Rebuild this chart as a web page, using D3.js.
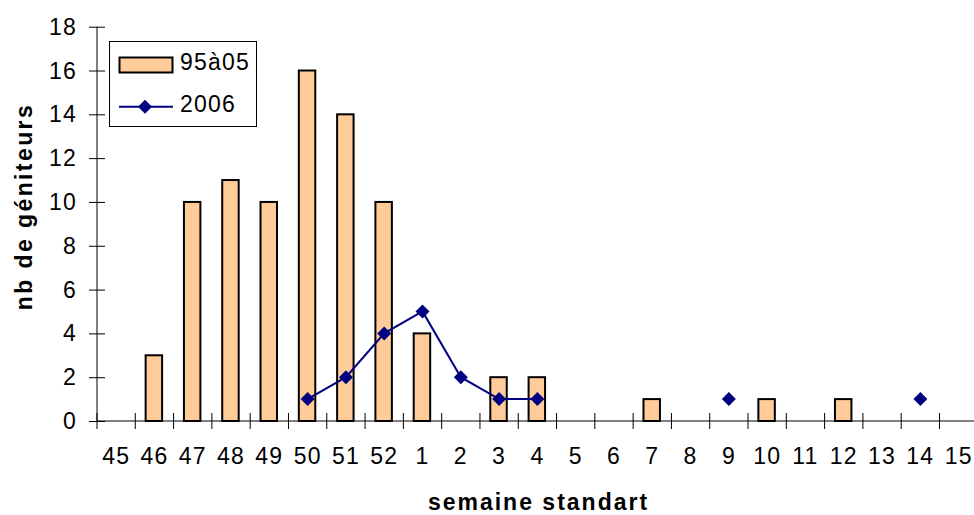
<!DOCTYPE html>
<html>
<head>
<meta charset="utf-8">
<script src="https://cdn.jsdelivr.net/npm/d3@7"></script>
<style>
  html, body { margin: 0; padding: 0; background: #fff; }
  svg { display: block; }
  text { font-family: "Liberation Sans", Arial, sans-serif; fill: #000; }
</style>
</head>
<body>
<svg id="chart" width="974" height="515"></svg>
<script>
// ---- data ----
const categories = ["45","46","47","48","49","50","51","52","1","2","3","4","5","6","7","8","9","10","11","12","13","14","15"];
const series9505 = [0,3,10,11,10,16,14,10,4,0,2,2,0,0,1,0,0,1,0,1,0,0,0];
const series2006 = [null,null,null,null,null,1,2,4,5,2,1,1,null,null,null,null,1,null,null,null,null,1,null];
const yTicks = [0,2,4,6,8,10,12,14,16,18];
const seriesNames = ["95à05","2006"];
const yTitle = "nb de géniteurs";
const xTitle = "semaine standart";

// ---- layout ----
const svg = d3.select("#chart");
const x0 = 97, x1 = 977.8, yBase = 421, yTop = 26.7;
const x = d3.scaleBand().domain(categories).range([x0, x1]).padding(0);
const y = d3.scaleLinear().domain([0, 18]).range([yBase, yTop]);
const bw = x.bandwidth();
const barColor = "#FFCC99";
const lineColor = "#000080";

// bars
svg.append("g").selectAll("rect")
  .data(categories.map((c, i) => ({c, v: series9505[i]})).filter(d => d.v > 0))
  .join("rect")
  .attr("x", d => x(d.c) + bw * 0.27)
  .attr("width", bw * 0.43)
  .attr("y", d => y(d.v))
  .attr("height", d => y(0) - y(d.v))
  .attr("fill", barColor)
  .attr("stroke", "#000")
  .attr("stroke-width", 2);

// y axis
const yAxis = svg.append("g")
  .attr("transform", `translate(${x0},0)`)
  .call(d3.axisLeft(y).tickValues(yTicks).tickSizeInner(8).tickSizeOuter(0).tickPadding(12));
yAxis.select(".domain").attr("stroke", "#000").attr("stroke-width", 1)
  .attr("d", `M0,${yBase}V${yTop}`);
yAxis.selectAll(".tick line").attr("x1", 8).attr("x2", -8).attr("stroke", "#000");
yAxis.selectAll(".tick text")
  .attr("font-size", 23).attr("font-family", "Liberation Sans, Arial, sans-serif")
  .style("letter-spacing", "1.2px").attr("dy", "0.33em");

// x axis (labels at centers, ticks at boundaries)
const xAxis = svg.append("g")
  .attr("transform", `translate(0,${yBase})`)
  .call(d3.axisBottom(x).tickSize(0).tickPadding(27));
xAxis.select(".domain").attr("stroke", "#000").attr("stroke-width", 1)
  .attr("d", `M${x0},0H974`);
xAxis.selectAll(".tick text")
  .attr("font-size", 23).attr("font-family", "Liberation Sans, Arial, sans-serif")
  .style("letter-spacing", "1.2px");
const bounds = categories.map(c => x(c)).concat([x.range()[1]]);
xAxis.append("g").selectAll("line").data(bounds).join("line")
  .attr("x1", d => d).attr("x2", d => d)
  .attr("y1", -8).attr("y2", 8)
  .attr("stroke", "#000").attr("stroke-width", 1);

// line series
const pts = categories.map((c, i) => ({c, v: series2006[i]}));
const line = d3.line()
  .defined(d => d.v != null)
  .x(d => x(d.c) + bw / 2)
  .y(d => y(d.v));
svg.append("path").datum(pts)
  .attr("d", line)
  .attr("fill", "none")
  .attr("stroke", lineColor)
  .attr("stroke-width", 2);
const diamond = "M0,-7L7,0L0,7L-7,0Z";
svg.append("g").selectAll("path")
  .data(pts.filter(d => d.v != null))
  .join("path")
  .attr("d", diamond)
  .attr("transform", d => `translate(${x(d.c) + bw / 2},${y(d.v)})`)
  .attr("fill", lineColor);

// axis titles
svg.append("text")
  .attr("transform", "translate(32,206.5) rotate(-90)")
  .attr("text-anchor", "middle")
  .attr("font-size", 23).attr("font-weight", "bold")
  .style("letter-spacing", "2.4px")
  .text(yTitle);
svg.append("text")
  .attr("x", 538.5).attr("y", 510)
  .attr("text-anchor", "middle")
  .attr("font-size", 23).attr("font-weight", "bold")
  .style("letter-spacing", "2px")
  .text(xTitle);

// legend
const lg = svg.append("g");
lg.append("rect").attr("x", 109.5).attr("y", 41.5).attr("width", 147).attr("height", 85)
  .attr("fill", "#fff").attr("stroke", "#000").attr("stroke-width", 1);
lg.append("rect").attr("x", 119.5).attr("y", 57.5).attr("width", 53).attr("height", 15)
  .attr("fill", barColor).attr("stroke", "#000").attr("stroke-width", 2);
lg.append("text").attr("x", 180).attr("y", 70)
  .attr("font-size", 23).style("letter-spacing", "1.2px").text(seriesNames[0]);
lg.append("line").attr("x1", 119).attr("x2", 173).attr("y1", 106.7).attr("y2", 106.7)
  .attr("stroke", lineColor).attr("stroke-width", 2);
lg.append("path").attr("d", diamond).attr("transform", "translate(145,106.7)").attr("fill", lineColor);
lg.append("text").attr("x", 180).attr("y", 112)
  .attr("font-size", 23).style("letter-spacing", "1.2px").text(seriesNames[1]);
</script>
</body>
</html>
